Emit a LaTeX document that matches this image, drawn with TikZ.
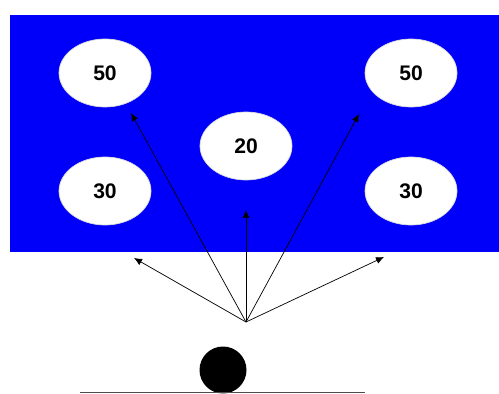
\documentclass[tikz,border=0pt]{standalone}
\usepackage{fontspec}
\setmainfont{Liberation Sans}
\usetikzlibrary{shapes.geometric,arrows.meta,positioning}
\definecolor{pblue}{RGB}{0,0,250}

\begin{document}
\begin{tikzpicture}[
    x=0.02cm, y=-0.02cm,
    spot/.style={ellipse, fill=white, draw=white!85!black, minimum width=1.84cm,
                 minimum height=1.36cm, font=\bfseries\large, inner sep=0pt},
    arr/.style={-{Latex[length=1.6mm, width=1.4mm]}, thin}
]
\useasboundingbox (0,0) rectangle (499,394);

\fill[pblue] (10,15) rectangle (499,252);

\node[spot] (tl) at (105,73) {50};
\node[spot] (tr) at (411,73) {50};
\node[spot] (mid) at (246,146) {20};
\node[spot] (bl) at (105,191) {30};
\node[spot] (br) at (411,191) {30};

\coordinate (src) at (246,322);
\coordinate (t1) at (134,258);
\coordinate (t2) at (131,113);
\coordinate (t3) at (246,210);
\coordinate (t4) at (359,114);
\coordinate (t5) at (384,257);

\foreach \t in {t1,t2,t3,t4,t5}
    \draw[arr] (src) -- (\t);

\node[circle, fill=black, minimum size=0.94cm, inner sep=0pt] (ball) at (223,370) {};
\draw[black!70] (80,392) -- (365,392);

\end{tikzpicture}
\end{document}
